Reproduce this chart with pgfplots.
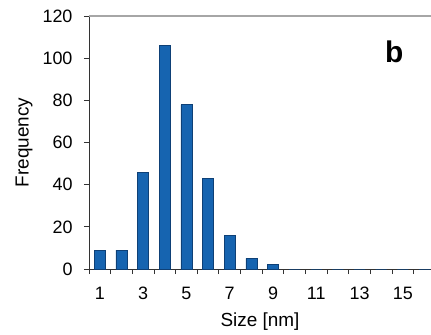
\documentclass[border=0pt]{standalone}
\usepackage{pgfplots}
\pgfplotsset{compat=1.18}
\usepackage{fontspec}
\setmainfont{Liberation Sans}
\definecolor{barblue}{RGB}{22,100,176}
\definecolor{baredge}{RGB}{14,64,118}
\begin{document}
\begin{tikzpicture}
\begin{axis}[
  at={(0,0)}, anchor=south west,
  scale only axis,
  width=342bp, height=253bp,
  xmin=0.5, xmax=16.3,
  ymin=0, ymax=120,
  axis x line*=bottom, axis y line*=left,
  axis line style={black!80, line width=0.9pt},
  xtick={1,3,...,15},
  minor xtick={0.5,1.5,...,16.5},
  ytick={0,20,...,120},
  tick align=outside,
  major tick length=5bp,
  minor tick length=5bp,
  x tick style={draw=none},
  minor x tick style={draw=black!80, line width=0.8pt},
  y tick style={black!80, line width=0.8pt},
  tick label style={font=\fontsize{18}{20}\selectfont},
  /pgf/number format/assume math mode=true,
  xticklabel style={anchor=center, yshift=-19bp},
  yticklabel style={anchor=east, xshift=-8bp},
  xlabel={Size [nm]},
  ylabel={Frequency},
  xlabel style={font=\fontsize{19}{21}\selectfont, at={(axis description cs:0.5,-0.209)}, anchor=center},
  ylabel style={font=\fontsize{19}{21}\selectfont, at={(axis description cs:-0.19,0.5)}, anchor=center},
  ybar, bar width=11bp,
  clip=false,
  after end axis/.code={
    \draw[gray!70, line width=1.2pt] (rel axis cs:0,1) -- (rel axis cs:1.02,1);
    \node[font=\fontsize{30}{32}\selectfont\bfseries] at (axis cs:14.6,103) {b};
  },
]
\addplot[fill=barblue, draw=baredge, line width=0.6pt] coordinates {
 (1,9) (2,9) (3,46) (4,106) (5,78) (6,43) (7,16) (8,5) (9,2)
 (10,0) (11,0) (12,0) (13,0) (14,0) (15,0) (16,0)
};
\end{axis}
\pgfresetboundingbox
\useasboundingbox (-89bp,-66bp) rectangle (342bp,269bp);
\end{tikzpicture}
\end{document}
